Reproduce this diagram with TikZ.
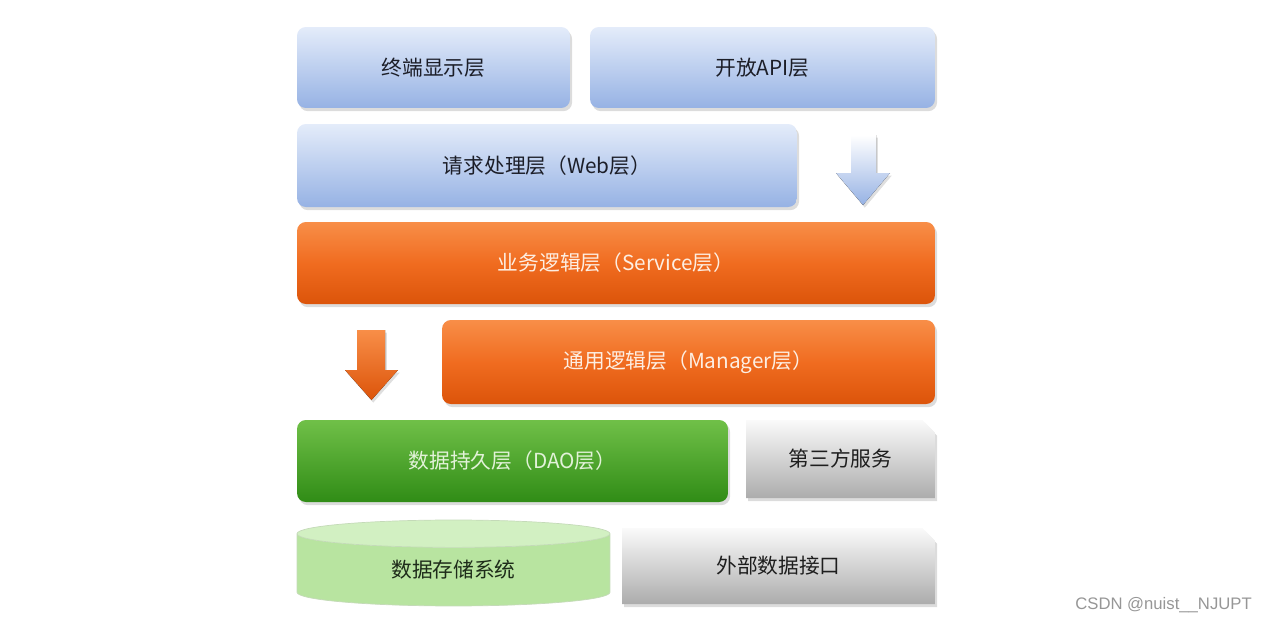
\documentclass[tikz,border=0pt]{standalone}
\usepackage{fontspec}
\setmainfont{Noto Sans CJK SC}
\newfontfamily\markfont{Liberation Sans}
\usepackage{xcolor}
\usepackage{tikz}
\usetikzlibrary{shapes.geometric,shapes.misc,shadows,positioning}

\definecolor{webtop}{RGB}{228,236,250}
\definecolor{webbot}{RGB}{150,178,228}
\definecolor{webtext}{RGB}{28,30,40}
\definecolor{svctop}{RGB}{248,142,72}
\definecolor{svcmid}{RGB}{240,108,32}
\definecolor{svcbot}{RGB}{220,84,10}
\definecolor{svctext}{RGB}{253,238,226}
\definecolor{daotop}{RGB}{112,192,72}
\definecolor{daobot}{RGB}{48,140,22}
\definecolor{daotext}{RGB}{226,242,216}
\definecolor{dbbody}{RGB}{184,228,160}
\definecolor{dbend}{RGB}{210,240,194}
\definecolor{dbtext}{RGB}{30,44,26}
\definecolor{exttop}{RGB}{250,250,250}
\definecolor{extbot}{RGB}{172,172,172}
\definecolor{exttext}{RGB}{30,30,30}
\definecolor{markgray}{RGB}{150,150,150}

\begin{document}
\begin{tikzpicture}[x=0.02cm, y=-0.02cm,
  layer/.style={rounded corners=5pt, inner sep=0pt, font=\fontsize{11.8}{14}\selectfont,
    drop shadow={opacity=0.28, shadow xshift=1.2pt, shadow yshift=-1.8pt}},
  webbox/.style={layer, top color=webtop, bottom color=webbot, text=webtext},
  svcbox/.style={layer, top color=svctop, bottom color=svcbot, middle color=svcmid, text=svctext},
  daobox/.style={layer, top color=daotop, bottom color=daobot, text=daotext},
  extbox/.style={layer, rounded corners=0pt, chamfered rectangle, chamfered rectangle corners=north east,
    chamfered rectangle xsep=0.12cm, chamfered rectangle ysep=0.13cm,
    top color=exttop, bottom color=extbot, text=exttext},
  dbbox/.style={cylinder, shape border rotate=90, aspect=0.22, inner sep=0pt,
    font=\fontsize{11.8}{14}\selectfont, cylinder uses custom fill,
    cylinder body fill=dbbody, cylinder end fill=dbend, draw=dbbody!85!black!60, line width=0.4pt, text=dbtext},
  blockarrow/.style={drop shadow={opacity=0.25, shadow xshift=1pt, shadow yshift=-1.5pt}}]
  \useasboundingbox (0,0) rectangle (1273,623);

  % upper layers
  \node [webbox, minimum width=5.46cm, minimum height=1.62cm] at (433.5,67.5) (disp) {终端显示层};
  \node [webbox, minimum width=6.9cm, minimum height=1.62cm] at (762.5,67.5) (api) {开放API层};
  \node [webbox, minimum width=10cm, minimum height=1.66cm] at (547,165.5) (web) {请求处理层（Web层）};
  \fill [blockarrow, top color=white, bottom color=webbot]
    (851,135) -- (876,135) -- (876,173) -- (890,173) -- (863,205) -- (836,173) -- (851,173) -- cycle;

  % logic layers
  \node [svcbox, minimum width=12.76cm, minimum height=1.64cm] at (616,263) (svc) {业务逻辑层（Service层）};
  \node [svcbox, minimum width=9.86cm, minimum height=1.68cm] at (688.5,362) (mgr) {通用逻辑层（Manager层）};
  \fill [blockarrow, top color=svctop, bottom color=svcbot]
    (357,330) -- (385,330) -- (385,370) -- (398,370) -- (371.5,400) -- (345,370) -- (357,370) -- cycle;

  % data layers
  \node [daobox, minimum width=8.62cm, minimum height=1.64cm] at (512.5,461) (dao) {数据持久层（DAO层）};
  \node [extbox, minimum width=3.78cm, minimum height=1.56cm] at (840.5,459) (third) {第三方服务};
  \node [dbbox, minimum width=6.26cm, minimum height=1.72cm] at (453.5,570) (store) {数据存储系统};
  \node [extbox, minimum width=6.26cm, minimum height=1.52cm] at (778.5,566) (ext) {外部数据接口};

  \node [anchor=east, font=\markfont\fontsize{9.5}{11}\selectfont, text=markgray] at (1258,605) (mark) {CSDN @nuist\_\_NJUPT};
\end{tikzpicture}
\end{document}
